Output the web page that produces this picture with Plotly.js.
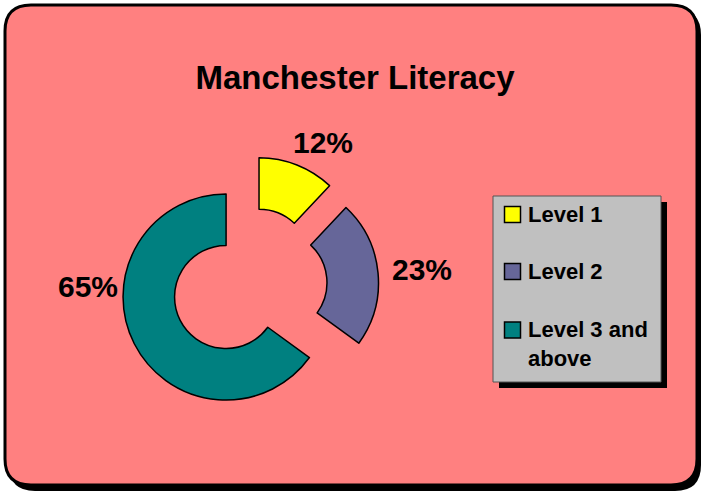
<!DOCTYPE html>
<html>
<head>
<meta charset="utf-8">
<script src="https://cdn.plot.ly/plotly-3.0.1.min.js"></script>
<style>
html,body{margin:0;padding:0;background:#ffffff;}
#chart{width:703px;height:493px;}
</style>
</head>
<body>
<div id="chart"></div>
<script>
// ---- data ----
const chartTitle = 'Manchester Literacy';
const labels = ['Level 1', 'Level 2', 'Level 3 and above'];
const values = [12, 23, 65];
const colors = ['#FFFF00', '#666699', '#008080'];

// ---- helpers (pixel -> paper fractions, margins are zero) ----
const W = 703, H = 493;
const px = x => x / W;
const py = y => 1 - y / H;

function roundRect(x0, y0, x1, y1, r) {
  const P = (x, y) => px(x) + ',' + py(y);
  return 'M' + P(x0 + r, y0) +
    ' L' + P(x1 - r, y0) + ' Q' + P(x1, y0) + ' ' + P(x1, y0 + r) +
    ' L' + P(x1, y1 - r) + ' Q' + P(x1, y1) + ' ' + P(x1 - r, y1) +
    ' L' + P(x0 + r, y1) + ' Q' + P(x0, y1) + ' ' + P(x0, y1 - r) +
    ' L' + P(x0, y0 + r) + ' Q' + P(x0, y0) + ' ' + P(x0 + r, y0) + ' Z';
}
function wrap(text, maxChars) {
  const words = text.split(' ');
  const lines = [];
  let cur = '';
  words.forEach(w => {
    if (cur && (cur + ' ' + w).length > maxChars) { lines.push(cur); cur = w; }
    else cur = cur ? cur + ' ' + w : w;
  });
  if (cur) lines.push(cur);
  return lines;
}

const fontFam = '"Liberation Sans", Arial, sans-serif';

const shapes = [
  // frame shadow
  {type: 'path', xref: 'paper', yref: 'paper', layer: 'below',
   path: roundRect(9, 9, 701, 491, 26), fillcolor: '#000000', line: {width: 0}},
  // frame
  {type: 'path', xref: 'paper', yref: 'paper', layer: 'below',
   path: roundRect(5, 5, 697, 485, 26), fillcolor: '#FF8080', line: {color: '#000000', width: 3}},
  // legend shadow
  {type: 'rect', xref: 'paper', yref: 'paper', layer: 'below',
   x0: px(499), x1: px(667), y0: py(202), y1: py(388), fillcolor: '#000000', line: {width: 0}},
  // legend box
  {type: 'rect', xref: 'paper', yref: 'paper', layer: 'below',
   x0: px(493), x1: px(661), y0: py(196), y1: py(382), fillcolor: '#C0C0C0', line: {color: '#555555', width: 1}}
];

const annotations = [];
const legendRows = [214.5, 271.5, 330];
const lineH = 28;
labels.forEach((lab, i) => {
  const cy = legendRows[i];
  shapes.push({type: 'rect', xref: 'paper', yref: 'paper', layer: 'above',
    x0: px(504.5), x1: px(520.5), y0: py(cy - 8), y1: py(cy + 8),
    fillcolor: colors[i], line: {color: '#000000', width: 1.5}});
  const lines = wrap(lab, 12);
  annotations.push({xref: 'paper', yref: 'paper', x: px(526), y: py(cy + (lines.length - 1) * lineH / 2),
    xanchor: 'left', yanchor: 'middle', align: 'left', showarrow: false,
    text: lines.join('<br>'), font: {family: fontFam, size: 22, color: '#000000', weight: 'bold'}});
});

// percentage labels
const total = values.reduce((a, b) => a + b, 0);
const pctPos = [[323, 143], [422, 269], [88, 286]];
values.forEach((v, i) => {
  annotations.push({xref: 'paper', yref: 'paper', x: px(pctPos[i][0]), y: py(pctPos[i][1]),
    xanchor: 'center', yanchor: 'middle', showarrow: false,
    text: Math.round(v / total * 100) + '%',
    font: {family: fontFam, size: 30, color: '#000000', weight: 'bold'}});
});

const data = [{
  type: 'pie',
  labels: labels,
  values: values,
  sort: false,
  direction: 'clockwise',
  rotation: 0,
  hole: 0.5,
  pull: [0.254, 0.254, 0.254],
  marker: {colors: colors, line: {color: '#000000', width: 1.5}},
  textinfo: 'none',
  hoverinfo: 'label+percent',
  showlegend: false,
  domain: {x: [120.2 / W, 378.6 / W], y: [78.7 / H, 337.1 / H]}
}];

const layout = {
  width: W, height: H,
  margin: {l: 0, r: 0, t: 0, b: 0},
  paper_bgcolor: '#ffffff',
  showlegend: false,
  title: {text: chartTitle, x: px(355), xanchor: 'center', y: py(77), yanchor: 'middle',
    font: {family: fontFam, size: 33, color: '#000000', weight: 'bold'}},
  shapes: shapes,
  annotations: annotations
};

Plotly.newPlot('chart', data, layout, {displayModeBar: false, staticPlot: true});
</script>
</body>
</html>
